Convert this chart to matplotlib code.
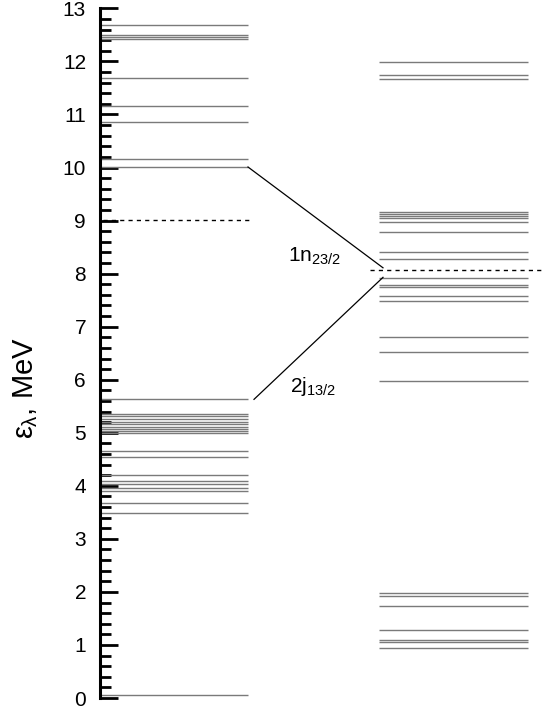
#!/usr/bin/env python3

import numpy as np
import matplotlib.pyplot as plt

plt.rcParams['font.family'] = ['Liberation Sans', 'DejaVu Sans']
plt.rcParams['mathtext.fontset'] = 'custom'
plt.rcParams['mathtext.rm'] = 'Liberation Sans'
plt.rcParams['mathtext.it'] = 'Liberation Sans'

##################################################
##        níveis de energia (MeV)               ##
##################################################

niveis_esq = [0.06, 3.49, 3.67, 3.91, 3.95, 4.04, 4.09, 4.20, 4.54, 4.66,
              5.00, 5.04, 5.07, 5.10, 5.17, 5.20, 5.26, 5.32, 5.36, 5.63,
              10.01, 10.17, 10.86, 11.16, 11.69, 12.42, 12.47, 12.50, 12.68]
niveis_dir = [0.95, 1.06, 1.09, 1.28, 1.74, 1.93, 1.97, 5.97, 6.52, 6.80,
              7.48, 7.57, 7.74, 7.79, 7.91, 8.28, 8.41, 8.78, 8.97, 9.05,
              9.09, 9.12, 9.16, 11.67, 11.74, 11.99]

fermi_esq = 9.02
fermi_dir = 8.06

# estados ligados entre as colunas: (E esquerda, E direita, rótulo)
estado_n = (10.01, 8.11, r'1n$_{23/2}$')
estado_j = (5.63, 7.93, r'2j$_{13/2}$')

##################################################
##                 figura                       ##
##################################################

fig = plt.figure(figsize=(5.45, 7.08), dpi=100)
ax = fig.add_axes([100/545, 10/708, 445/545, 689.6/708])

x_esq = (0, 148)
x_dir = (279, 428)

cinza = '#7a7a7a'
ax.hlines(niveis_esq, *x_esq, colors=cinza, lw=1.0)
ax.hlines(niveis_dir, *x_dir, colors=cinza, lw=1.0)

ax.plot([3, 153], [fermi_esq]*2, color='black', lw=1.0, ls=(0, (3, 3)))
ax.plot([270, 445], [fermi_dir]*2, color='black', lw=1.0, ls=(0, (3, 3)),
        clip_on=False)

ax.plot([148, 283], [estado_n[0], estado_n[1]], color='black', lw=0.9)
ax.plot([154, 283], [estado_j[0], estado_j[1]], color='black', lw=0.9)

ax.text(188, 8.12, estado_n[2], fontsize=15, ha='left', va='bottom')
ax.text(190, 6.08, estado_j[2], fontsize=15, ha='left', va='top')

ax.set_xlim(0, 445)
ax.set_ylim(0, 13)
ax.set_yticks(np.arange(0, 14, 1))
ax.set_yticks(np.arange(0, 13.01, 0.2), minor=True)
ax.tick_params(axis='y', which='major', direction='in', length=13, width=2,
               labelsize=15, pad=10)
ax.tick_params(axis='y', which='minor', direction='in', length=8, width=2)
ax.set_xticks([])

for s in ['top', 'right', 'bottom']:
    ax.spines[s].set_visible(False)
ax.spines['left'].set_linewidth(2.2)

ax.set_ylabel(r'$\varepsilon_{\lambda}$, MeV', fontsize=21, labelpad=14)
ax.yaxis.set_label_coords(-0.135, 0.45)

fig.savefig('out.png', dpi=100)
